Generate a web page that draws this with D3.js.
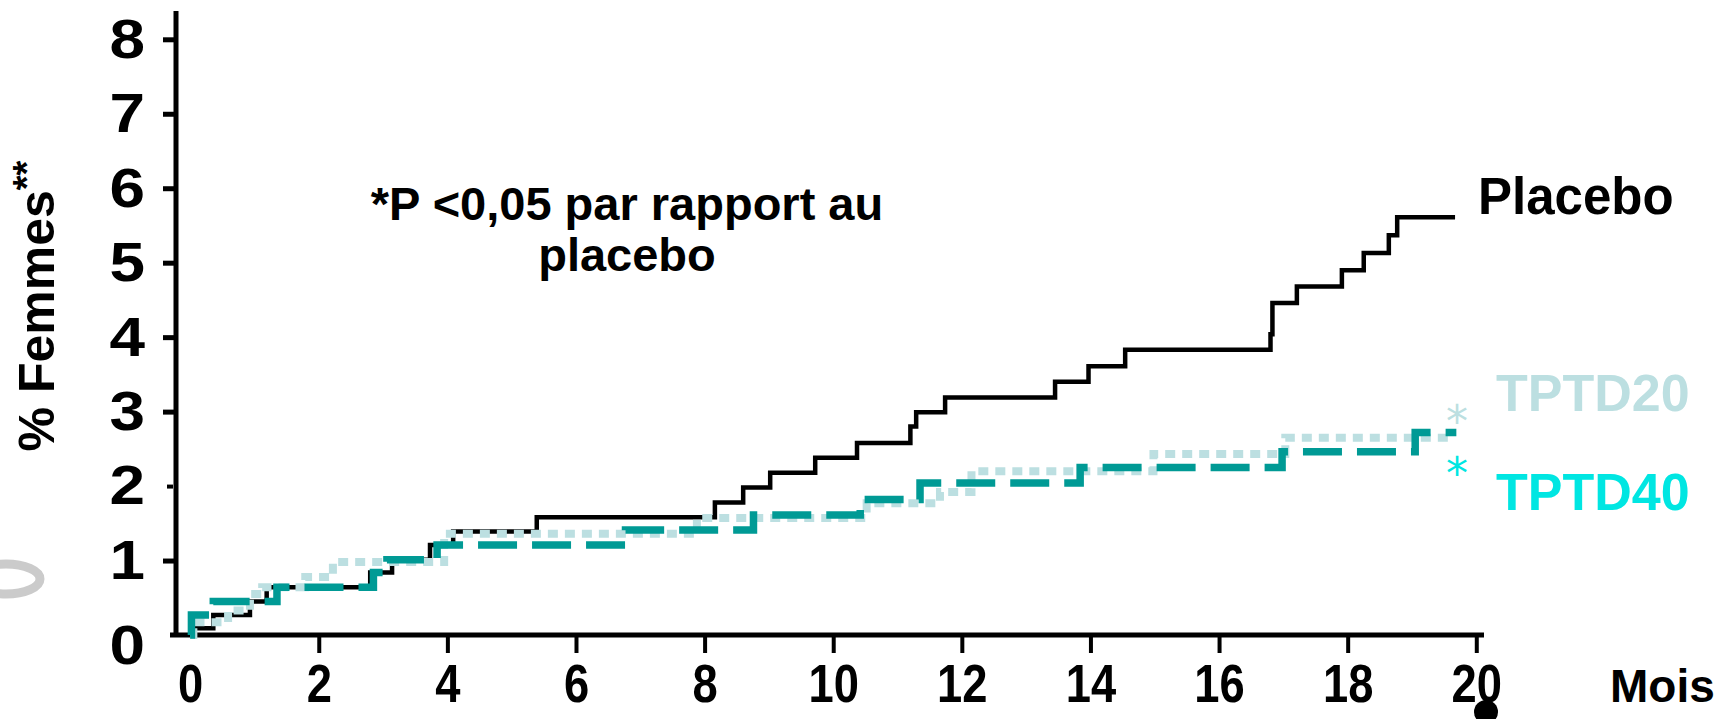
<!DOCTYPE html>
<html><head><meta charset="utf-8">
<script src="https://cdn.jsdelivr.net/npm/d3@7"></script>
<style>
html,body{margin:0;padding:0;background:#fff;overflow:hidden}
svg{display:block;font-family:"Liberation Sans",Arial,Helvetica,sans-serif;font-weight:bold}
</style>
</head><body>
<svg id="chart" width="1728" height="719"></svg>
<script>
// ---- data ----
const xTicks = [0, 2, 4, 6, 8, 10, 12, 14, 16, 18, 20];
const yTicks = [0, 1, 2, 3, 4, 5, 6, 7, 8];
const xTitle = "Mois";
const yTitle = "% Femmes";
const seriesNames = ["Placebo", "TPTD20", "TPTD40"];
const noteLines = ["*P <0,05 par rapport au", "placebo"];

const placeboMonths = [0, 0.05, 0.36, 0.93, 1.19, 2.80, 3.14, 3.73, 4.09, 5.39, 8.16, 8.60, 9.02, 9.72, 10.37, 11.20, 11.29, 11.74, 13.45, 13.97, 14.54, 16.80, 16.83, 17.21, 17.91, 18.25, 18.64, 18.77, 19.67];
const placeboValues = [0, 0.09, 0.27, 0.45, 0.64, 0.84, 1.01, 1.21, 1.39, 1.58, 1.78, 1.98, 2.18, 2.38, 2.58, 2.80, 2.99, 3.19, 3.40, 3.61, 3.83, 4.04, 4.46, 4.68, 4.90, 5.13, 5.37, 5.61, 5.61];

const tptd20Months = [0, 0.05, 0.59, 0.93, 1.12, 1.79, 2.22, 3.95, 7.88, 10.52, 11.66, 12.15, 14.98, 17.03, 19.60];
const tptd20Values = [0, 0.17, 0.33, 0.55, 0.64, 0.78, 0.98, 1.36, 1.57, 1.77, 1.92, 2.20, 2.43, 2.65, 2.65];

const tptd40Months = [0, 0.02, 0.36, 1.35, 2.85, 3.06, 3.84, 6.77, 8.76, 10.42, 11.35, 13.84, 16.98, 19.05, 19.69];
const tptd40Values = [0, 0.27, 0.45, 0.64, 0.84, 1.01, 1.21, 1.41, 1.61, 1.82, 2.04, 2.25, 2.46, 2.72, 2.72];

// ---- drawing ----
const svg = d3.select("#chart");
svg.append("rect").attr("width", 1728).attr("height", 719).attr("fill", "#fff");

const x = d3.scaleLinear().domain([-0.22, 20.12]).range([176, 1484]);
const y = d3.scaleLinear().domain([0, 8.38]).range([635, 11]);

const zip = (ms, vs) => ms.map((m, i) => [m, vs[i]]);
const line = d3.line().x(d => x(d[0])).y(d => y(d[1])).curve(d3.curveStepAfter);

// decorative artifacts
svg.append("ellipse").attr("cx", 6).attr("cy", 579).attr("rx", 34).attr("ry", 15)
  .attr("fill", "none").attr("stroke", "#cbcbcb").attr("stroke-width", 9);
svg.append("circle").attr("cx", 1486).attr("cy", 712).attr("r", 12).attr("fill", "#000");

// y axis
const yAxis = d3.axisLeft(y).tickValues(yTicks).tickFormat(d3.format("d")).tickSize(13).tickPadding(18);
const gy = svg.append("g").attr("transform", `translate(${x(-0.22)},0)`).call(yAxis);
gy.select(".domain").remove();
gy.selectAll(".tick line").attr("stroke", "#000").attr("stroke-width", 5);
gy.selectAll(".tick").filter(d => d === 0).select("line").remove();
gy.selectAll(".tick").filter(d => d === 2).select("line").attr("x2", -9).attr("x1", -3).attr("stroke-width", 4);
gy.selectAll(".tick text").attr("font-size", 56).attr("font-weight", "bold").attr("fill", "#000")
  .attr("font-family", "Liberation Sans, Arial, sans-serif")
  .attr("x", 0).attr("transform", "translate(-31,0) scale(1.14,1)");
gy.selectAll(".tick").filter(d => d === 0).select("text").attr("dy", "0.5em");

// x axis
const xAxis = d3.axisBottom(x).tickValues(xTicks).tickFormat(d3.format("d")).tickSize(18).tickPadding(11);
const gx = svg.append("g").attr("transform", `translate(0,${y(0)})`).call(xAxis);
gx.select(".domain").remove();
gx.selectAll(".tick line").attr("stroke", "#000").attr("stroke-width", 4);
gx.selectAll(".tick").filter(d => d === 0).select("line").remove();
gx.selectAll(".tick text").attr("font-size", 54).attr("font-weight", "bold").attr("fill", "#000")
  .attr("font-family", "Liberation Sans, Arial, sans-serif")
  .attr("transform", "scale(0.84,1)");

// axis lines
svg.append("line").attr("x1", x(-0.22)).attr("x2", x(-0.22)).attr("y1", y(8.38)).attr("y2", y(0) + 2)
  .attr("stroke", "#000").attr("stroke-width", 5);
svg.append("line").attr("x1", x(-0.22) - 6).attr("x2", x(20.12)).attr("y1", y(0)).attr("y2", y(0))
  .attr("stroke", "#000").attr("stroke-width", 5);

// series
svg.append("path").datum(zip(placeboMonths, placeboValues)).attr("d", line)
  .attr("fill", "none").attr("stroke", "#000").attr("stroke-width", 4.5).attr("stroke-linejoin", "miter");
svg.append("path").datum(zip(tptd20Months, tptd20Values)).attr("d", line)
  .attr("fill", "none").attr("stroke", "#bcdfe1").attr("stroke-width", 8).attr("stroke-dasharray", "10,7");
svg.append("path").datum(zip(tptd40Months, tptd40Values)).attr("d", line)
  .attr("fill", "none").attr("stroke", "#009a95").attr("stroke-width", 7.5).attr("stroke-dasharray", "39,15");

// axis titles
svg.append("text").attr("x", 1610).attr("y", 702).attr("font-size", 46).attr("fill", "#000").text(xTitle);
const yt = svg.append("text").attr("transform", "translate(54,306) rotate(-90)")
  .attr("text-anchor", "middle").attr("font-size", 50).attr("fill", "#000");
yt.append("tspan").text(yTitle);
yt.append("tspan").attr("font-size", 38).attr("dy", -14).text("**");

// note
const note = svg.append("text").attr("text-anchor", "middle").attr("font-size", 47).attr("fill", "#000");
noteLines.forEach((t, i) => note.append("tspan").attr("x", 627).attr("y", 220 + i * 51).text(t));

// series labels
svg.append("text").attr("x", 1478).attr("y", 214).attr("font-size", 51).attr("fill", "#000").text(seriesNames[0]);
svg.append("text").attr("x", 1496).attr("y", 411).attr("font-size", 52).attr("fill", "#bcdfe1").text(seriesNames[1]);
svg.append("text").attr("x", 1496).attr("y", 510).attr("font-size", 52).attr("fill", "#00e6e2").text(seriesNames[2]);

// significance asterisks
function star(cx, baseline, color) {
  svg.append("text").attr("x", cx).attr("y", baseline).attr("font-size", 44)
    .attr("font-weight", "normal").attr("font-family", "DejaVu Sans, sans-serif")
    .attr("text-anchor", "middle").attr("fill", color).text("*");
}
star(1457, 437, "#bcdfe1");
star(1457, 489, "#00e6e2");
</script>
</body></html>
